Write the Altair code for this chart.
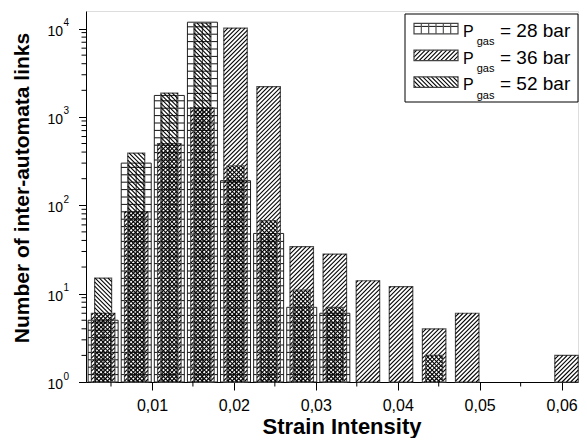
import math
import altair as alt
import pandas as pd

# ---------------- data ----------------
strain_28 = [0.00404, 0.00808, 0.01212, 0.01616, 0.0202, 0.02424, 0.02828, 0.03232]
count_28 = [5, 300, 1750, 11800, 190, 48, 7, 6]

strain_36 = [0.00404, 0.00808, 0.01212, 0.01616, 0.0202, 0.02424, 0.02828, 0.03232,
             0.03636, 0.0404, 0.04444, 0.04848, 0.0606]
count_36 = [6, 85, 500, 1270, 10100, 2200, 34, 28, 14, 12, 4, 6, 2]

strain_52 = [0.00404, 0.00808, 0.01212, 0.01616, 0.0202, 0.02424, 0.02828, 0.03232, 0.04444]
count_52 = [15, 390, 1860, 11500, 280, 67, 11, 7, 2]

x_ticks = [0.01, 0.02, 0.03, 0.04, 0.05, 0.06]
x_minor = [0.005, 0.015, 0.025, 0.035, 0.045, 0.055]
y_exponents = [0, 1, 2, 3, 4]
legend_labels = ["= 28 bar", "= 36 bar", "= 52 bar"]

# ---------------- layout / style ----------------
XMIN, XMAX = 0.00195, 0.0620
YMIN, YMAX = 1, 15800
W, H = 492, 371
SX = W / (XMAX - XMIN)
LOGMAX = math.log10(YMAX)
FONT = "Liberation Sans"
BAR_PX = {"28": 30.0, "36": 23.5, "52": 17.0}
HATCH = 4.3
GRID = 7.4


def dat(X, Y):
    return XMIN + X / SX, 10 ** ((H - Y) / H * LOGMAX)


def rect_px(center, value, wpx):
    L = (center - XMIN) * SX - wpx / 2
    T = H - math.log10(value) / LOGMAX * H
    return L, T, wpx, H - T


def slash(L, T, w, h, s=HATCH):
    segs = []
    off = L + T
    k = math.floor(off / s) + 1
    while True:
        c = k * s - off
        if c >= w + h:
            break
        xa, xb = max(0.0, c - h), min(w, c)
        segs.append((L + xa, T + c - xa, L + xb, T + c - xb))
        k += 1
    return segs


def backslash(L, T, w, h, s=HATCH):
    segs = []
    off = L - T
    k = math.floor((off - h) / s) + 1
    while True:
        d = k * s - off
        if d >= w:
            break
        if d > -h:
            xa, xb = max(0.0, d), min(w, d + h)
            segs.append((L + xa, T + xa - d, L + xb, T + xb - d))
        k += 1
    return segs


def grid(L, T, w, h, s=GRID, ncol=4):
    B = T + h
    hs, vs = [], []
    j = 1
    while j * s < h - 0.8:
        Y = B - j * s
        hs.append((L, Y, L + w, Y))
        j += 1
    for i in range(1, ncol):
        X = L + w * i / ncol
        vs.append((X, T, X, B))
    return hs, vs


def seg_rows(segs):
    rows = []
    for X1, Y1, X2, Y2 in segs:
        a, b = dat(X1, Y1)
        c, d = dat(X2, Y2)
        rows.append({"x": a, "y": b, "x2": c, "y2": d})
    return rows


def rect_row(L, T, w, h):
    a, b = dat(L, T)
    c, d = dat(L + w, T + h)
    return {"x": a, "y": b, "x2": c, "y2": d}


bars28, h28, v28 = [], [], []
for c, v in zip(strain_28, count_28):
    L, T, w, h = rect_px(c, v, BAR_PX["28"])
    bars28.append({"x": c - w / 2 / SX, "x2": c + w / 2 / SX, "y": v, "y2": YMIN})
    hs, vs = grid(L, T, w, h)
    h28 += seg_rows(hs)
    v28 += seg_rows(vs)

bars36, s36 = [], []
for c, v in zip(strain_36, count_36):
    L, T, w, h = rect_px(c, v, BAR_PX["36"])
    bars36.append({"x": c - w / 2 / SX, "x2": c + w / 2 / SX, "y": v, "y2": YMIN})
    s36 += seg_rows(slash(L, T, w, h))

bars52, s52 = [], []
for c, v in zip(strain_52, count_52):
    L, T, w, h = rect_px(c, v, BAR_PX["52"])
    bars52.append({"x": c - w / 2 / SX, "x2": c + w / 2 / SX, "y": v, "y2": YMIN})
    s52 += seg_rows(backslash(L, T, w, h))

LEG_BOX = (319, 3, 173, 88)
SW_X, SW_W, SW_H = 328, 44, 10.5
ROW0, ROWSTEP = 12.3, 26.8
leg_box = [rect_row(*LEG_BOX)]
leg_sw, leg_h, leg_v, leg_s, leg_b = [], [], [], [], []
leg_P, leg_sub, leg_lab = [], [], []
for i, lab in enumerate(legend_labels):
    top = ROW0 + ROWSTEP * i
    leg_sw.append(rect_row(SW_X, top, SW_W, SW_H))
    if i == 0:
        hs, vs = grid(SW_X, top, SW_W, SW_H, ncol=6)
        leg_h += seg_rows(hs)
        leg_v += seg_rows(vs)
    elif i == 1:
        leg_s += seg_rows(slash(SW_X, top, SW_W, SW_H))
    else:
        leg_b += seg_rows(backslash(SW_X, top, SW_W, SW_H))
    base = top + 13.4
    px_, py_ = dat(377, base)
    leg_P.append({"x": px_, "y": py_, "t": "P"})
    gx, gy = dat(390.7, base + 8.5)
    leg_sub.append({"x": gx, "y": gy, "t": "gas"})
    lx, ly = dat(414, base)
    leg_lab.append({"x": lx, "y": ly, "t": lab})

xs = alt.Scale(domain=[XMIN, XMAX], nice=False, zero=False)
ys = alt.Scale(type="log", domain=[YMIN, YMAX], nice=False)

x_axis = alt.Axis(
    values=x_ticks, grid=False, tickSize=8, tickColor="black", domainColor="black",
    labelExpr="replace(format(datum.value, '.2f'), '.', ',')",
    labelFont=FONT, labelFontSize=16, labelColor="black", labelPadding=7, labelFlush=False,
    title="Strain Intensity", titleFont=FONT, titleFontSize=22, titleFontWeight="bold",
    titleColor="black", titleX=255.5, titleY=51.5, titleAlign="center",
    titleBaseline="alphabetic", titleAnchor="start",
)
y_axis = alt.Axis(
    values=[10 ** e for e in y_exponents], grid=False, labels=False, tickSize=7.5,
    tickColor="black", domainColor="black",
    title="Number of inter-automata links", titleFont=FONT, titleFontSize=21,
    titleFontWeight="bold", titleColor="black", titleAngle=270, titleX=-58, titleY=176.5,
    titleAlign="center", titleBaseline="alphabetic", titleAnchor="start",
)


def ranged(chart):
    return chart.encode(
        x=alt.X("x:Q", scale=xs, axis=x_axis),
        x2="x2:Q",
        y=alt.Y("y:Q", scale=ys, axis=y_axis),
        y2="y2:Q",
    )


layers = []
layers.append(ranged(alt.Chart(alt.Data(values=bars28)).mark_rect(
    fill="white", fillOpacity=0, stroke="#222", strokeWidth=1)))
layers.append(ranged(alt.Chart(alt.Data(values=h28)).mark_rule(color="#111", strokeWidth=1)))
layers.append(ranged(alt.Chart(alt.Data(values=v28)).mark_rule(color="#555", strokeWidth=1.2)))
layers.append(ranged(alt.Chart(alt.Data(values=bars36)).mark_rect(
    fill="white", fillOpacity=0, stroke="#555", strokeWidth=1.2)))
layers.append(ranged(alt.Chart(alt.Data(values=s36)).mark_rule(color="black", strokeWidth=1.1)))
layers.append(ranged(alt.Chart(alt.Data(values=bars52)).mark_rect(
    fill="white", fillOpacity=0, stroke="#555", strokeWidth=1.2)))
layers.append(ranged(alt.Chart(alt.Data(values=s52)).mark_rule(color="black", strokeWidth=1.1)))

y_minor = [m * 10 ** e for e in range(0, 4) for m in range(2, 10)]
layers.append(alt.Chart(pd.DataFrame({"y": y_minor})).mark_rule(color="black", strokeWidth=1).encode(
    x=alt.value(0), x2=alt.value(-4.5), y=alt.Y("y:Q", scale=ys, axis=y_axis)))
layers.append(alt.Chart(pd.DataFrame({"x": x_minor})).mark_rule(color="black", strokeWidth=1).encode(
    x=alt.X("x:Q", scale=xs, axis=x_axis), y=alt.value(H), y2=alt.value(H + 4.5)))

ylab = pd.DataFrame({"y": [10 ** e for e in y_exponents], "b": ["10"] * len(y_exponents),
                     "e": [str(e) for e in y_exponents]})
layers.append(alt.Chart(ylab).mark_text(align="right", baseline="alphabetic", dy=7, fontSize=14,
                                        font=FONT, color="black").encode(
    x=alt.value(-23), y=alt.Y("y:Q", scale=ys, axis=y_axis), text="b:N"))
layers.append(alt.Chart(ylab).mark_text(align="left", baseline="alphabetic", dy=-2.5, fontSize=10,
                                        font=FONT, color="black").encode(
    x=alt.value(-22.5), y=alt.Y("y:Q", scale=ys, axis=y_axis), text="e:N"))

layers.append(ranged(alt.Chart(alt.Data(values=leg_box)).mark_rect(
    fill="white", stroke="black", strokeWidth=1)))
layers.append(ranged(alt.Chart(alt.Data(values=leg_h)).mark_rule(color="#111", strokeWidth=1)))
layers.append(ranged(alt.Chart(alt.Data(values=leg_v)).mark_rule(color="#555", strokeWidth=1.2)))
layers.append(ranged(alt.Chart(alt.Data(values=leg_s)).mark_rule(color="black", strokeWidth=1.1)))
layers.append(ranged(alt.Chart(alt.Data(values=leg_b)).mark_rule(color="black", strokeWidth=1.1)))
layers.append(ranged(alt.Chart(alt.Data(values=leg_sw)).mark_rect(
    fill="white", fillOpacity=0, stroke="#444", strokeWidth=1.2)))


def leg_text(rows, size):
    return alt.Chart(alt.Data(values=rows)).mark_text(
        align="left", baseline="alphabetic", fontSize=size, font=FONT, color="black").encode(
        x=alt.X("x:Q", scale=xs, axis=x_axis), y=alt.Y("y:Q", scale=ys, axis=y_axis), text="t:N")


layers.append(leg_text(leg_P, 16))
layers.append(leg_text(leg_sub, 11))
layers.append(leg_text(leg_lab, 19))

chart = alt.layer(*layers).properties(
    width=W, height=H, autosize="none",
    padding={"left": 78, "top": 3, "right": 1, "bottom": 56},
).configure_view(stroke=None).configure(background="white")

chart.save("out.html", embed_options={"renderer": "svg", "actions": False})
